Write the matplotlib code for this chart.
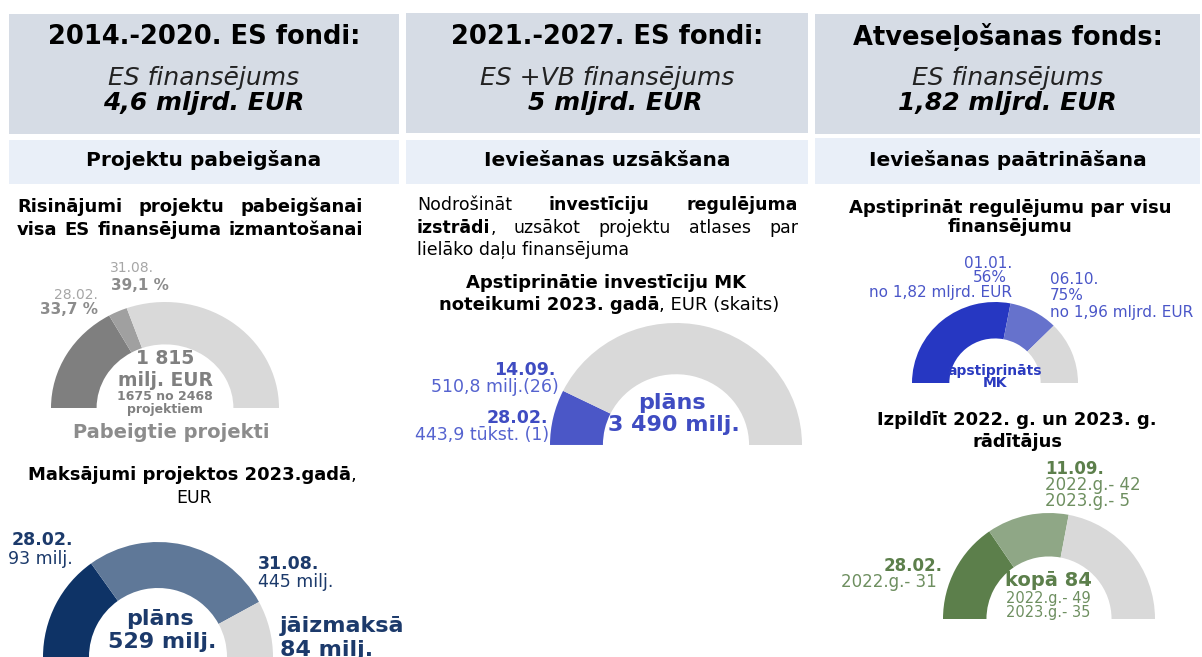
import matplotlib
matplotlib.use("Agg")
import matplotlib.pyplot as plt
from matplotlib.patches import Rectangle

plt.rcParams['font.family'] = ['DejaVu Sans']

W, H = 1202, 657

# header boxes
fund_titles = ["2014.-2020. ES fondi:", "2021.-2027. ES fondi:", "Atveseļošanas fonds:"]
fund_sources = ["ES finansējums", "ES +VB finansējums", "ES finansējums"]
fund_amounts = ["4,6 mljrd. EUR", "5 mljrd. EUR", "1,82 mljrd. EUR"]
fund_tasks = ["Projektu pabeigšana", "Ieviešanas uzsākšana", "Ieviešanas paātrināšana"]

# gauge data (cumulative marks, last value = full half circle)
completed_pct = [33.7, 39.1, 100]          # Pabeigtie projekti, %
payments_arc = [160, 445, 529]             # Maksājumi 2023, milj. EUR (as drawn)
rules_arc = [0.4439, 510.8, 3490]          # MK noteikumi 2023, milj. EUR
regulation_pct = [56, 75, 100]             # apstiprināts MK, %
indicators_arc = [26, 47, 84]              # rādītāji (as drawn)

fig = plt.figure(figsize=(W / 100, H / 100), dpi=100)
ax = fig.add_axes([0, 0, 1, 1])
ax.set_xlim(0, W)
ax.set_ylim(H, 0)
ax.axis('off')
ax.set_zorder(5)
ax.patch.set_alpha(0)
renderer = fig.canvas.get_renderer()


def gauge(cx, base, rx, ry, hole, marks, colors):
    gax = fig.add_axes([(cx - rx) / W, 1 - (base + ry) / H, 2 * rx / W, 2 * ry / H])
    segs = [marks[0]] + [marks[i] - marks[i - 1] for i in range(1, len(marks))]
    gax.pie(segs + [marks[-1]], colors=colors + ['none'], startangle=180,
            counterclock=False, radius=1,
            wedgeprops=dict(width=1 - hole, linewidth=0))
    gax.set_aspect('auto')
    gax.set_xlim(-1, 1)
    gax.set_ylim(-1, 1)
    gax.axis('off')


def line(pieces, x, y, size, ha='center', color='black'):
    # pieces: list of (text, weight)
    texts = [ax.text(0, y, t, fontsize=size, fontweight=w, va='center', ha='left', color=color)
             for t, w in pieces]
    widths = [t.get_window_extent(renderer).width for t in texts]
    total = sum(widths)
    x0 = x - total / 2 if ha == 'center' else x
    for t, wd in zip(texts, widths):
        t.set_x(x0)
        x0 += wd


def justified(words, x0, x1, y, size):
    # words: list of lists of (text, weight)
    groups = []
    for word in words:
        texts = [ax.text(0, y, t, fontsize=size, fontweight=w, va='center', ha='left')
                 for t, w in word]
        widths = [t.get_window_extent(renderer).width for t in texts]
        groups.append((texts, widths))
    total = sum(sum(g[1]) for g in groups)
    gap = (x1 - x0 - total) / (len(groups) - 1)
    x = x0
    for texts, widths in groups:
        for t, wd in zip(texts, widths):
            t.set_x(x)
            x += wd
        x += gap


# ---- header boxes
head_boxes = [(9, 14, 399, 134), (406, 13, 808, 133), (815, 14, 1200, 134)]
task_boxes = [(9, 140, 399, 184), (406, 140, 808, 184), (815, 138, 1200, 184)]
for i in range(3):
    x0, y0, x1, y1 = head_boxes[i]
    ax.add_patch(Rectangle((x0, y0), x1 - x0, y1 - y0, color='#d6dce5', lw=0))
    cx = (x0 + x1) / 2
    ax.text(cx, 37, fund_titles[i], fontsize=18.5, fontweight='bold', ha='center', va='center')
    ax.text(cx, 78, fund_sources[i], fontsize=18, style='italic', ha='center', va='center', color='#222222')
    ax.text(cx + (8 if i == 1 else 0), 103, fund_amounts[i], fontsize=18, style='italic',
            fontweight='bold', ha='center', va='center')
    x0, y0, x1, y1 = task_boxes[i]
    ax.add_patch(Rectangle((x0, y0), x1 - x0, y1 - y0, color='#e9eff8', lw=0))
    ax.text(cx, 160, fund_tasks[i], fontsize=14.5, fontweight='bold', ha='center', va='center')

# ---- column 1: completed projects
justified([[("Risinājumi", 'bold')], [("projektu", 'bold')], [("pabeigšanai", 'bold')]], 17, 363, 207, 13)
justified([[("visa", 'bold')], [("ES", 'bold')], [("finansējuma", 'bold')], [("izmantošanai", 'bold')]], 17, 363, 230, 13)

gauge(165, 408, 114, 106, 0.6, completed_pct, ['#7f7f7f', '#a0a0a0', '#d9d9d9'])
ax.text(110, 268, "31.08.", fontsize=10, color='#a6a6a6', ha='left', va='center')
ax.text(111, 285, "39,1 %", fontsize=11, fontweight='bold', color='#8c8c8c', ha='left', va='center')
ax.text(98, 295, "28.02.", fontsize=10, color='#a6a6a6', ha='right', va='center')
ax.text(98, 309, "33,7 %", fontsize=11, fontweight='bold', color='#8c8c8c', ha='right', va='center')
ax.text(165, 358, "1 815", fontsize=13.5, fontweight='bold', color='#808080', ha='center', va='center')
ax.text(165, 380, "milj. EUR", fontsize=13.5, fontweight='bold', color='#808080', ha='center', va='center')
ax.text(165, 397, "1675 no 2468", fontsize=9, fontweight='bold', color='#808080', ha='center', va='center')
ax.text(165, 410, "projektiem", fontsize=9, fontweight='bold', color='#808080', ha='center', va='center')
ax.text(171, 433, "Pabeigtie projekti", fontsize=14, fontweight='bold', color='#8c8c8c', ha='center', va='center')

# ---- column 1: payments
line([("Maksājumi projektos 2023.gadā", 'bold'), (",", 'normal')], 192, 475, 13)
ax.text(194, 498, "EUR", fontsize=12.5, ha='center', va='center')
gauge(158, 657, 115, 115, 0.6, payments_arc, ['#0e3366', '#5f7898', '#d9d9d9'])
navy = '#1c3a6b'
ax.text(73, 540, "28.02.", fontsize=12.5, fontweight='bold', color=navy, ha='right', va='center')
ax.text(73, 559, "93 milj.", fontsize=12.5, color=navy, ha='right', va='center')
ax.text(258, 564, "31.08.", fontsize=12.5, fontweight='bold', color=navy, ha='left', va='center')
ax.text(258, 582, "445 milj.", fontsize=12.5, color=navy, ha='left', va='center')
ax.text(280, 626, "jāizmaksā", fontsize=16, fontweight='bold', color=navy, ha='left', va='center')
ax.text(280, 650, "84 milj.", fontsize=16, fontweight='bold', color=navy, ha='left', va='center')
ax.text(160, 619, "plāns", fontsize=16, fontweight='bold', color=navy, ha='center', va='center')
ax.text(162, 642, "529 milj.", fontsize=16, fontweight='bold', color=navy, ha='center', va='center')

# ---- column 2
justified([[("Nodrošināt", 'normal')], [("investīciju", 'bold')], [("regulējuma", 'bold')]], 417, 798, 205, 12.5)
justified([[("izstrādi", 'bold'), (",", 'normal')], [("uzsākot", 'normal')], [("projektu", 'normal')],
           [("atlases", 'normal')], [("par", 'normal')]], 417, 798, 228, 12.5)
ax.text(417, 250, "lielāko daļu finansējuma", fontsize=12.5, ha='left', va='center')
line([("Apstiprinātie investīciju MK", 'bold')], 606, 283, 13)
line([("noteikumi 2023. gadā", 'bold'), (", EUR (skaits)", 'normal')], 609, 305, 13)

gauge(676, 445, 126, 122, 0.58, rules_arc, ['#4b57c7', '#4b57c7', '#d9d9d9'])
blue = '#3f4cc2'
ax.text(555, 370, "14.09.", fontsize=12.5, fontweight='bold', color=blue, ha='right', va='center')
ax.text(559, 387, "510,8 milj.(26)", fontsize=12.5, color='#5563cf', ha='right', va='center')
ax.text(548, 418, "28.02.", fontsize=12.5, fontweight='bold', color=blue, ha='right', va='center')
ax.text(549, 435, "443,9 tūkst. (1)", fontsize=12.5, color='#5563cf', ha='right', va='center')
ax.text(672, 403, "plāns", fontsize=16, fontweight='bold', color=blue, ha='center', va='center')
ax.text(674, 425, "3 490 milj.", fontsize=16, fontweight='bold', color=blue, ha='center', va='center')

# ---- column 3: regulation
ax.text(1010, 208, "Apstiprināt regulējumu par visu", fontsize=13, fontweight='bold', ha='center', va='center')
ax.text(1010, 227, "finansējumu", fontsize=13, fontweight='bold', ha='center', va='center')
gauge(995, 383, 83, 81, 0.55, regulation_pct, ['#2637c2', '#6672cc', '#d9d9d9'])
lblue = '#4a56c8'
ax.text(988, 263, "01.01.", fontsize=11, color=lblue, ha='center', va='center')
ax.text(990, 278, "56%", fontsize=11, color=lblue, ha='center', va='center')
ax.text(1012, 293, "no 1,82 mljrd. EUR", fontsize=11, color=lblue, ha='right', va='center')
ax.text(1050, 280, "06.10.", fontsize=11, color=lblue, ha='left', va='center')
ax.text(1050, 296, "75%", fontsize=11, color=lblue, ha='left', va='center')
ax.text(1050, 312, "no 1,96 mljrd. EUR", fontsize=11, color=lblue, ha='left', va='center')
ax.text(995, 371, "apstiprināts", fontsize=10, fontweight='bold', color='#2b3bc0', ha='center', va='center')
ax.text(995, 383, "MK", fontsize=10, fontweight='bold', color='#2b3bc0', ha='center', va='center')

# ---- column 3: indicators
ax.text(1017, 420, "Izpildīt 2022. g. un 2023. g.", fontsize=13, fontweight='bold', ha='center', va='center')
ax.text(1018, 442, "rādītājus", fontsize=13, fontweight='bold', ha='center', va='center')
gauge(1049, 619, 106, 106, 0.59, indicators_arc, ['#5c7f4b', '#8fa786', '#d9d9d9'])
green = '#5c7f4b'
lgreen = '#6e8f60'
ax.text(1045, 469, "11.09.", fontsize=12, fontweight='bold', color=green, ha='left', va='center')
ax.text(1045, 485, "2022.g.- 42", fontsize=12, color=lgreen, ha='left', va='center')
ax.text(1045, 501, "2023.g.- 5", fontsize=12, color=lgreen, ha='left', va='center')
ax.text(943, 566, "28.02.", fontsize=12, fontweight='bold', color=green, ha='right', va='center')
ax.text(937, 582, "2022.g.- 31", fontsize=12, color=lgreen, ha='right', va='center')
ax.text(1048, 580, "kopā 84", fontsize=14, fontweight='bold', color=green, ha='center', va='center')
ax.text(1048, 598, "2022.g.- 49", fontsize=10.5, color=lgreen, ha='center', va='center')
ax.text(1048, 612, "2023.g.- 35", fontsize=10.5, color=lgreen, ha='center', va='center')

fig.savefig("out.png", dpi=100, facecolor='white')
